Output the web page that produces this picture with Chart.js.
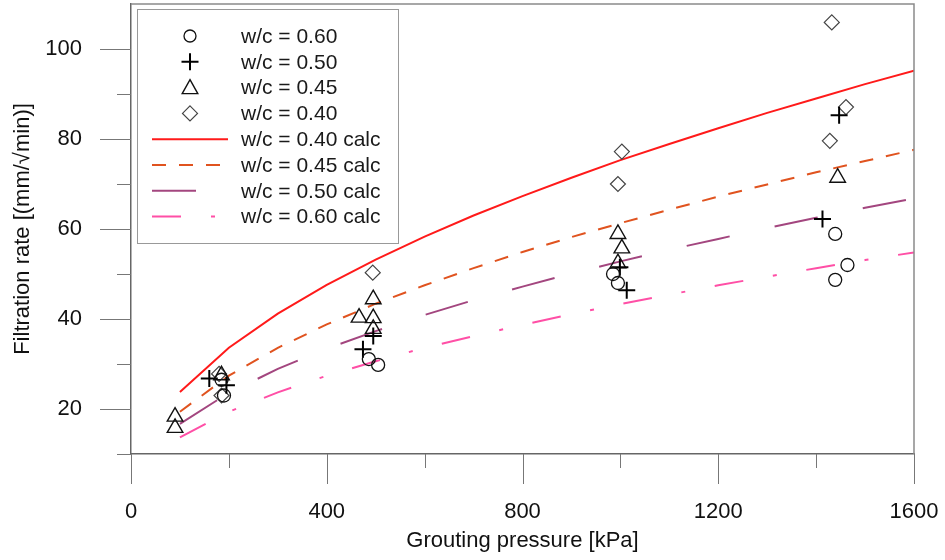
<!DOCTYPE html>
<html>
<head>
<meta charset="utf-8">
<script src="https://cdn.jsdelivr.net/npm/chart.js@4.4.1/dist/chart.umd.min.js"></script>
<style>
  html, body { margin: 0; padding: 0; background: #fff; }
  #wrap { width: 945px; height: 560px; }
</style>
</head>
<body>
<div id="wrap"><canvas id="chart" width="945" height="560"></canvas></div>
<script>
// Calculated curves (pressure in kPa)
const calcPressure = [100, 200, 300, 400, 500, 600, 700, 800, 900, 1000, 1100, 1200, 1300, 1400, 1500, 1600];
const calc040 = [23.8, 33.6, 41.2, 47.6, 53.2, 58.3, 63.0, 67.3, 71.4, 75.3, 78.9, 82.4, 85.8, 89.0, 92.2, 95.2];
const calc045 = [19.4, 27.4, 33.6, 38.8, 43.4, 47.5, 51.3, 54.9, 58.2, 61.3, 64.3, 67.2, 69.9, 72.6, 75.1, 77.6];
const calc050 = [16.7, 23.6, 28.9, 33.4, 37.3, 40.9, 44.2, 47.2, 50.1, 52.8, 55.4, 57.8, 60.2, 62.5, 64.7, 66.8];
const calc060 = [13.7, 19.4, 23.7, 27.4, 30.6, 33.6, 36.2, 38.7, 41.1, 43.3, 45.4, 47.5, 49.4, 51.3, 53.1, 54.8];

// Measured points
const p060 = [185, 190, 486, 505, 985, 995, 1439, 1464, 1439];
const r060 = [26.5, 23.0, 31.1, 29.8, 50.0, 48.0, 58.9, 52.0, 48.7];
const p050 = [160, 195, 474, 495, 999, 1013, 1413, 1447];
const r050 = [26.8, 25.3, 33.3, 36.2, 51.5, 46.4, 62.2, 85.3];
const p045 = [90, 90, 185, 466, 495, 495, 495, 995, 1003, 995, 1444];
const r045 = [18.3, 15.8, 27.5, 40.3, 44.4, 40.2, 37.8, 58.9, 55.7, 52.4, 71.4];
const p040 = [180, 185, 494, 1003, 995, 1432, 1461, 1428];
const r040 = [27.8, 23.0, 50.3, 77.2, 70.0, 105.9, 87.1, 79.6];

const xTicks = [0, 400, 800, 1200, 1600];
const xMinor = [200, 600, 1000, 1400];
const yTicks = [20, 40, 60, 80, 100];
const yMinor = [10, 30, 50, 70, 90];

function pts(xs, ys) { return xs.map((x, i) => ({ x: x, y: ys[i] })); }

const FONT = "'Liberation Sans', Arial, sans-serif";

const legendItems = [
  { label: 'w/c = 0.60', kind: 'circle' },
  { label: 'w/c = 0.50', kind: 'cross' },
  { label: 'w/c = 0.45', kind: 'triangle' },
  { label: 'w/c = 0.40', kind: 'diamond' },
  { label: 'w/c = 0.40 calc', kind: 'line', color: '#ff1a1a', dash: [] },
  { label: 'w/c = 0.45 calc', kind: 'line', color: '#e0531f', dash: [14, 13] },
  { label: 'w/c = 0.50 calc', kind: 'line', color: '#a3467f', dash: [44, 46] },
  { label: 'w/c = 0.60 calc', kind: 'line', color: '#ff4fa6', dash: [29, 30, 4, 30] }
];

// frame, tick marks and legend box
const decor = {
  id: 'decor',
  afterDraw(chart) {
    const ctx = chart.ctx, a = chart.chartArea;
    const xs = chart.scales.x, ys = chart.scales.y;
    ctx.save();
    ctx.strokeStyle = '#8a8a8a';
    ctx.lineWidth = 1.5;
    ctx.beginPath();
    ctx.moveTo(a.left, a.top); ctx.lineTo(a.right, a.top); ctx.lineTo(a.right, a.bottom);
    ctx.stroke();
    ctx.strokeStyle = '#777';
    ctx.lineWidth = 1;
    ctx.beginPath();
    xTicks.forEach(v => { const px = Math.round(xs.getPixelForValue(v)) + 0.5; ctx.moveTo(px, a.bottom); ctx.lineTo(px, a.bottom + 30); });
    xMinor.forEach(v => { const px = Math.round(xs.getPixelForValue(v)) + 0.5; ctx.moveTo(px, a.bottom); ctx.lineTo(px, a.bottom + 14); });
    yTicks.forEach(v => { const py = Math.round(ys.getPixelForValue(v)) + 0.5; ctx.moveTo(a.left, py); ctx.lineTo(a.left - 31, py); });
    yMinor.forEach(v => { const py = Math.round(ys.getPixelForValue(v)) + 0.5; ctx.moveTo(a.left, py); ctx.lineTo(a.left - 14, py); });
    ctx.stroke();

    // legend
    const bx = 137.5, by = 9.5, bw = 261, bh = 234;
    ctx.fillStyle = '#fff';
    ctx.fillRect(bx, by, bw, bh);
    ctx.strokeStyle = '#999';
    ctx.lineWidth = 1;
    ctx.strokeRect(bx, by, bw, bh);
    ctx.font = '21px ' + FONT;
    ctx.textBaseline = 'middle';
    ctx.textAlign = 'left';
    legendItems.forEach((it, i) => {
      const cy = 36 + i * 25.8, cx = 190;
      ctx.save();
      if (it.kind === 'line') {
        ctx.strokeStyle = it.color; ctx.lineWidth = 2; ctx.setLineDash(it.dash);
        ctx.beginPath(); ctx.moveTo(152, cy); ctx.lineTo(228, cy); ctx.stroke();
      } else if (it.kind === 'circle') {
        ctx.strokeStyle = '#111'; ctx.lineWidth = 1.3;
        ctx.beginPath(); ctx.arc(cx, cy, 6, 0, Math.PI * 2); ctx.stroke();
      } else if (it.kind === 'cross') {
        ctx.strokeStyle = '#000'; ctx.lineWidth = 2;
        ctx.beginPath(); ctx.moveTo(cx - 8.5, cy); ctx.lineTo(cx + 8.5, cy); ctx.moveTo(cx, cy - 8.5); ctx.lineTo(cx, cy + 8.5); ctx.stroke();
      } else if (it.kind === 'triangle') {
        ctx.strokeStyle = '#111'; ctx.lineWidth = 1.4;
        ctx.beginPath(); ctx.moveTo(cx, cy - 8); ctx.lineTo(cx + 7.8, cy + 6); ctx.lineTo(cx - 7.8, cy + 6); ctx.closePath(); ctx.stroke();
      } else if (it.kind === 'diamond') {
        ctx.strokeStyle = '#444'; ctx.lineWidth = 1.2;
        ctx.beginPath(); ctx.moveTo(cx, cy - 7.5); ctx.lineTo(cx + 7.5, cy); ctx.lineTo(cx, cy + 7.5); ctx.lineTo(cx - 7.5, cy); ctx.closePath(); ctx.stroke();
      }
      ctx.restore();
      ctx.fillStyle = '#1a1a1a';
      ctx.fillText(it.label, 241, cy + 1);
    });
    ctx.restore();
  }
};

function calcSet(label, ys, color, dash) {
  return {
    type: 'line', label: label, data: pts(calcPressure, ys),
    borderColor: color, borderWidth: 2, borderDash: dash,
    pointRadius: 0, fill: false, tension: 0, order: 2
  };
}

function noPad(s) { s.paddingTop = 0; s.paddingBottom = 0; s.paddingLeft = 0; s.paddingRight = 0; }

new Chart(document.getElementById('chart'), {
  type: 'scatter',
  data: {
    datasets: [
      calcSet('w/c = 0.40 calc', calc040, '#ff1a1a', []),
      calcSet('w/c = 0.45 calc', calc045, '#e0531f', [14, 13]),
      calcSet('w/c = 0.50 calc', calc050, '#a3467f', [44, 46]),
      calcSet('w/c = 0.60 calc', calc060, '#ff4fa6', [29, 30, 4, 30]),
      { label: 'w/c = 0.60', data: pts(p060, r060), pointStyle: 'circle', pointRadius: 6.5,
        borderColor: '#111', borderWidth: 1.3, backgroundColor: 'rgba(0,0,0,0)', order: 1 },
      { label: 'w/c = 0.50', data: pts(p050, r050), pointStyle: 'cross', pointRadius: 8.5,
        borderColor: '#000', borderWidth: 2, backgroundColor: 'rgba(0,0,0,0)', order: 1 },
      { label: 'w/c = 0.45', data: pts(p045, r045), pointStyle: 'triangle', pointRadius: 9,
        borderColor: '#111', borderWidth: 1.4, backgroundColor: 'rgba(0,0,0,0)', order: 1 },
      { label: 'w/c = 0.40', data: pts(p040, r040), pointStyle: 'rectRot', pointRadius: 7.5,
        borderColor: '#444', borderWidth: 1.2, backgroundColor: 'rgba(0,0,0,0)', order: 1 }
    ]
  },
  options: {
    responsive: false,
    animation: false,
    devicePixelRatio: 1,
    layout: { autoPadding: false, padding: { top: 4, right: 31, left: 0, bottom: 0 } },
    plugins: { legend: { display: false }, tooltip: { enabled: false } },
    scales: {
      x: {
        type: 'linear', min: 0, max: 1600,
        afterFit: s => { s.height = 106; noPad(s); },
        afterBuildTicks: s => { s.ticks = xTicks.map(v => ({ value: v })); },
        grid: { drawOnChartArea: false, drawTicks: false },
        border: { display: true, color: '#666', width: 1.5 },
        ticks: { padding: 45, color: '#111', font: { family: FONT, size: 22 }, maxRotation: 0,
          callback: v => String(v) },
        title: { display: true, text: 'Grouting pressure [kPa]', color: '#111',
          font: { family: FONT, size: 22 }, padding: { top: 0, bottom: 6 } }
      },
      y: {
        type: 'linear', min: 10, max: 110,
        afterFit: s => { s.width = 131; noPad(s); },
        afterBuildTicks: s => { s.ticks = yTicks.map(v => ({ value: v })); },
        grid: { drawOnChartArea: false, drawTicks: false },
        border: { display: true, color: '#666', width: 1.5 },
        ticks: { padding: 49, color: '#111', font: { family: FONT, size: 22 }, callback: v => String(v) },
        title: { display: true, text: 'Filtration rate [(mm/\u221Amin)]', color: '#111',
          font: { family: FONT, size: 22 }, padding: { top: 10, bottom: 0 } }
      }
    }
  },
  plugins: [decor]
});
</script>
</body>
</html>
